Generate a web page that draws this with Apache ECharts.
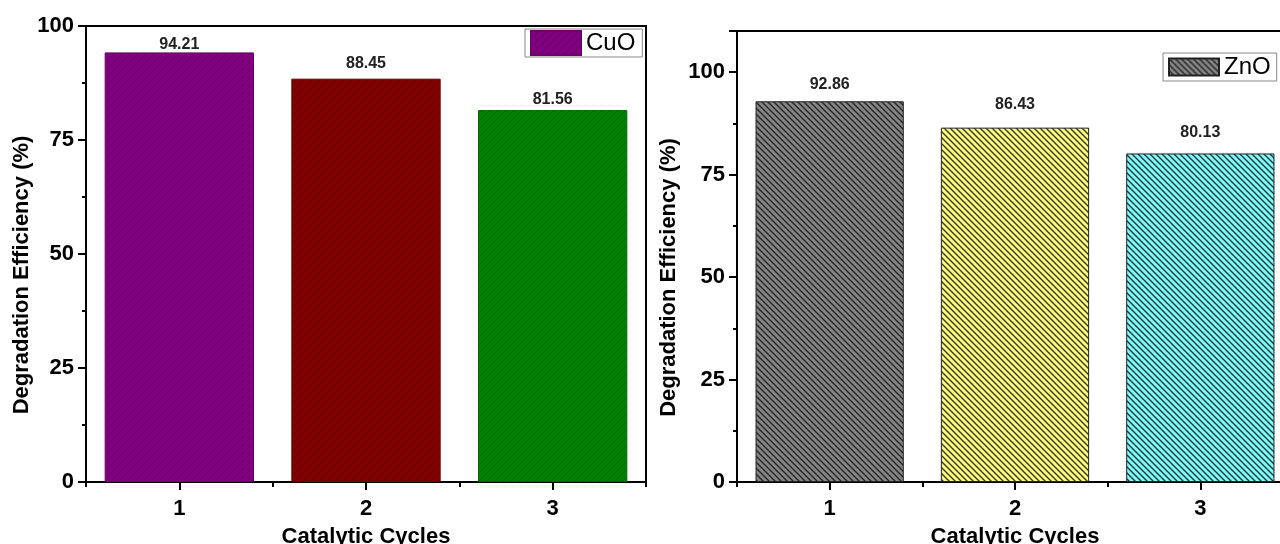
<!DOCTYPE html>
<html>
<head>
<meta charset="utf-8">
<script src="https://cdn.jsdelivr.net/npm/echarts@6/dist/echarts.min.js"></script>
<style>
  html, body { margin: 0; padding: 0; background: #fff; }
  #main { width: 1280px; height: 544px; }
</style>
</head>
<body>
<div id="main"></div>
<script>
// data
var cycles = ['1', '2', '3'];
var cuoEff = [94.21, 88.45, 81.56];
var znoEff = [92.86, 86.43, 80.13];
var yTicksLeft = [0, 100];
var yTicksRight = [0, 110];

var FONT = "'Liberation Sans', Arial, sans-serif";

// hatch fills, like the Origin patterns
function hatch(base, line, dir, size, lw) {
    var c = document.createElement('canvas');
    c.width = size; c.height = size;
    var ctx = c.getContext('2d');
    ctx.fillStyle = base;
    ctx.fillRect(0, 0, size, size);
    ctx.strokeStyle = line;
    ctx.lineWidth = lw;
    ctx.beginPath();
    for (var k = -1; k <= 1; k++) {
        if (dir === '\\') {
            ctx.moveTo(-1, -1 + k * size);
            ctx.lineTo(size + 1, size + 1 + k * size);
        } else {
            ctx.moveTo(-1, size + 1 + k * size);
            ctx.lineTo(size + 1, -1 + k * size);
        }
    }
    ctx.stroke();
    return { image: c, repeat: 'repeat' };
}

var cuoFill = [
    hatch('#800080', 'rgba(60,0,60,0.4)', '/', 8, 1),
    hatch('#800000', 'rgba(60,0,0,0.4)', '/', 8, 1),
    hatch('#008000', 'rgba(0,60,0,0.4)', '/', 8, 1)
];
var cuoEdge = ['#6a006a', '#6a0000', '#006a00'];
var znoFill = [
    hatch('#858585', '#262626', '\\', 6, 1.4),
    hatch('#ffff80', '#3a3a1a', '\\', 6, 1.4),
    hatch('#80ffff', '#1a3a3a', '\\', 6, 1.4)
];
var cuoLabelGap = [0, 7, 2];
var znoLabelGap = [9, 15, 13];

function barData(vals, fills, edges, gaps) {
    return vals.map(function (v, i) {
        return {
            value: v,
            itemStyle: { color: fills[i], borderColor: edges[i] },
            label: { distance: gaps[i] }
        };
    });
}

var axisText = { color: '#000', fontFamily: FONT, fontWeight: 'bold', fontSize: 22 };
var axisLine = { show: true, lineStyle: { color: '#000', width: 2 } };

function catAxis(grid) {
    return [{
        type: 'category', gridIndex: grid, data: cycles, position: 'bottom',
        axisLine: axisLine,
        axisTick: { show: true, alignWithLabel: true, length: 8, lineStyle: { color: '#000', width: 2 } },
        axisLabel: Object.assign({ margin: 16 }, axisText),
        name: 'Catalytic Cycles', nameLocation: 'middle', nameGap: 44,
        nameTextStyle: axisText
    }, {
        type: 'category', gridIndex: grid, data: cycles, position: 'bottom',
        axisLine: { show: false },
        axisTick: { show: true, length: 5, lineStyle: { color: '#000', width: 2 } },
        axisLabel: { show: false }
    }];
}

function valAxis(grid, ext, gap) {
    return {
        type: 'value', gridIndex: grid, min: ext[0], max: ext[1], interval: 25,
        axisLine: axisLine,
        axisTick: { show: true, length: 8, lineStyle: { color: '#000', width: 2 } },
        minorTick: { show: true, splitNumber: 2, length: 4, lineStyle: { color: '#000', width: 2 } },
        splitLine: { show: false },
        axisLabel: Object.assign({
            margin: 12,
            formatter: function (v) { return v % 25 === 0 ? String(v) : ''; }
        }, axisText),
        name: 'Degradation Efficiency (%)', nameLocation: 'middle', nameGap: gap,
        nameTextStyle: Object.assign({ padding: [0, 42, 0, 0] }, axisText)
    };
}

var legendText = { color: '#000', fontFamily: FONT, fontSize: 24 };

var myChart = echarts.init(document.getElementById('main'));
myChart.setOption({
    animation: false,
    backgroundColor: '#fff',
    grid: [
        { left: 86, top: 26, width: 560, height: 456, show: true, borderColor: '#000', borderWidth: 2,
          outerBoundsMode: 'none', containLabel: false },
        { left: 737, top: 31, width: 556, height: 451, show: true, borderColor: '#000', borderWidth: 2,
          outerBoundsMode: 'none', containLabel: false }
    ],
    legend: [{
        data: ['CuO'], left: 525, top: 29, orient: 'vertical', icon: 'rect',
        itemWidth: 50, itemHeight: 24, itemGap: 0, padding: [1, 7, 1, 5],
        borderColor: '#888', borderWidth: 1, textStyle: Object.assign({ lineHeight: 24 }, legendText)
    }, {
        data: ['ZnO'], left: 1163, top: 53, orient: 'vertical', icon: 'rect',
        itemWidth: 50, itemHeight: 17, itemGap: 0, padding: [2, 6, 2, 5],
        borderColor: '#888', borderWidth: 1,
        textStyle: Object.assign({ lineHeight: 17 }, legendText)
    }],
    xAxis: catAxis(0).concat(catAxis(1)),
    yAxis: [valAxis(0, yTicksLeft, 52), valAxis(1, yTicksRight, 57)],
    series: [{
        name: 'CuO', type: 'bar', xAxisIndex: 0, yAxisIndex: 0,
        barCategoryGap: '20%',
        itemStyle: { color: cuoFill[0], borderColor: cuoEdge[0], borderWidth: 1 },
        label: { show: true, position: 'top', color: '#222', fontFamily: FONT, fontWeight: 'bold', fontSize: 16 },
        data: barData(cuoEff, cuoFill, cuoEdge, cuoLabelGap)
    }, {
        name: 'ZnO', type: 'bar', xAxisIndex: 2, yAxisIndex: 1,
        barCategoryGap: '20%',
        itemStyle: { color: znoFill[0], borderColor: '#222', borderWidth: 1 },
        label: { show: true, position: 'top', color: '#222', fontFamily: FONT, fontWeight: 'bold', fontSize: 16 },
        data: barData(znoEff, znoFill, ['#222', '#222', '#222'], znoLabelGap)
    }]
});
</script>
</body>
</html>
